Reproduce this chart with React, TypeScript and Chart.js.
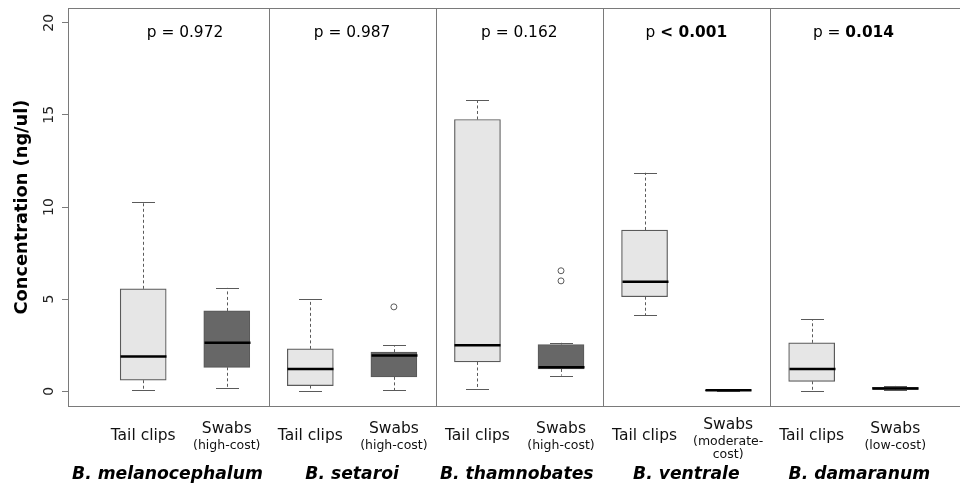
import React, { useEffect, useRef } from "react";
import { Chart, registerables } from "chart.js";

Chart.register(...registerables);

const species = ["B. melanocephalum", "B. setaroi", "B. thamnobates", "B. ventrale", "B. damaranum"];
const methods = ["Tail clips", "Swabs", "Tail clips", "Swabs", "Tail clips", "Swabs", "Tail clips", "Swabs", "Tail clips", "Swabs"];
const swabCost = ["(high-cost)", "(high-cost)", "(high-cost)", "(moderate-|cost)", "(low-cost)"];
const pComparator = ["=", "=", "=", "<", "="];
const pValues = ["0.972", "0.987", "0.162", "0.001", "0.014"];
const pSignificant = [false, false, false, true, true];

const whiskerLow = [0.05, 0.2, 0.02, 0.05, 0.11, 0.85, 4.13, 0.02, 0.0, 0.08];
const q1 = [0.6, 1.3, 0.31, 0.78, 1.59, 1.21, 5.13, 0.03, 0.54, 0.1];
const median = [1.89, 2.63, 1.21, 1.94, 2.5, 1.3, 5.94, 0.05, 1.21, 0.15];
const q3 = [5.56, 4.36, 2.3, 2.12, 14.75, 2.54, 8.75, 0.07, 2.63, 0.22];
const whiskerHigh = [10.29, 5.61, 5.0, 2.5, 15.8, 2.63, 11.86, 0.08, 3.9, 0.29];
const outlierBox = [4, 6, 6];
const outlierValue = [4.58, 6.54, 5.99];
const yTicks = [0, 5, 10, 15, 20];

const FONT = "'DejaVu Sans', Verdana, sans-serif";
const AXIS_GRAY = "#7a7a7a";
const BOX_EDGE = "#5a5a5a";

const overlay = {
  id: "boxOverlay",
  afterDraw(chart: any) {
    const { ctx, chartArea, scales } = chart;
    const x = scales.x;
    const y = scales.y;
    ctx.save();
    // top border
    ctx.strokeStyle = AXIS_GRAY;
    ctx.lineWidth = 1;
    ctx.setLineDash([]);
    ctx.beginPath();
    ctx.moveTo(chartArea.left, chartArea.top + 0.5);
    ctx.lineTo(chart.width, chartArea.top + 0.5);
    ctx.stroke();
    // panel dividers
    for (let k = 1; k < species.length; k++) {
      const px = Math.round(x.getPixelForValue(2 * k + 0.5)) + 0.5;
      ctx.beginPath();
      ctx.moveTo(px, chartArea.top);
      ctx.lineTo(px, chartArea.bottom);
      ctx.stroke();
    }
    // whiskers, caps, medians
    const boxW = 46;
    const capW = 23;
    for (let i = 0; i < median.length; i++) {
      const cx = Math.round(x.getPixelForValue(i + 1)) + 0.5;
      ctx.strokeStyle = BOX_EDGE;
      ctx.lineWidth = 1;
      ctx.setLineDash([3, 2.5]);
      ctx.beginPath();
      ctx.moveTo(cx, y.getPixelForValue(q3[i]));
      ctx.lineTo(cx, y.getPixelForValue(whiskerHigh[i]));
      ctx.moveTo(cx, y.getPixelForValue(q1[i]));
      ctx.lineTo(cx, y.getPixelForValue(whiskerLow[i]));
      ctx.stroke();
      ctx.setLineDash([]);
      ctx.beginPath();
      for (const v of [whiskerHigh[i], whiskerLow[i]]) {
        const py = Math.round(y.getPixelForValue(v)) + 0.5;
        ctx.moveTo(cx - capW / 2, py);
        ctx.lineTo(cx + capW / 2, py);
      }
      ctx.stroke();
      ctx.strokeStyle = "#000";
      ctx.lineWidth = 2.5;
      ctx.beginPath();
      const my = y.getPixelForValue(median[i]);
      ctx.moveTo(cx - boxW / 2, my);
      ctx.lineTo(cx + boxW / 2, my);
      ctx.stroke();
    }
    // y tick labels
    ctx.fillStyle = "#222";
    ctx.font = `14px ${FONT}`;
    ctx.textAlign = "center";
    ctx.textBaseline = "middle";
    for (const t of yTicks) {
      ctx.save();
      ctx.translate(49, y.getPixelForValue(t));
      ctx.rotate(-Math.PI / 2);
      ctx.fillText(String(t), 0, 0);
      ctx.restore();
    }
    // y title
    ctx.save();
    ctx.fillStyle = "#000";
    ctx.font = `bold 17.8px ${FONT}`;
    ctx.translate(22, (chartArea.top + chartArea.bottom) / 2);
    ctx.rotate(-Math.PI / 2);
    ctx.fillText("Concentration (ng/ul)", 0, 0);
    ctx.restore();
    // p values
    ctx.fillStyle = "#000";
    for (let k = 0; k < species.length; k++) {
      const cx = x.getPixelForValue(2 * k + 1.5);
      const normalFont = `15.4px ${FONT}`;
      const boldFont = `bold 15.4px ${FONT}`;
      const partA = "p ";
      const partB = pComparator[k] + " ";
      const partC = pValues[k];
      const fontB = pComparator[k] === "<" ? boldFont : normalFont;
      const fontC = pSignificant[k] ? boldFont : normalFont;
      ctx.font = normalFont;
      const wA = ctx.measureText(partA).width;
      ctx.font = fontB;
      const wB = ctx.measureText(partB).width;
      ctx.font = fontC;
      const wC = ctx.measureText(partC).width;
      let sx = cx - (wA + wB + wC) / 2;
      ctx.textAlign = "left";
      ctx.textBaseline = "middle";
      const py = 32.5;
      ctx.font = normalFont;
      ctx.fillText(partA, sx, py);
      sx += wA;
      ctx.font = fontB;
      ctx.fillText(partB, sx, py);
      sx += wB;
      ctx.font = fontC;
      ctx.fillText(partC, sx, py);
    }
    // x category labels
    ctx.textAlign = "center";
    ctx.textBaseline = "middle";
    ctx.fillStyle = "#111";
    for (let i = 0; i < methods.length; i++) {
      const cx = x.getPixelForValue(i + 1);
      if (i % 2 === 0) {
        ctx.font = `15.5px ${FONT}`;
        ctx.fillText(methods[i], cx, 436);
      } else {
        const lines = swabCost[(i - 1) / 2].split("|");
        const top = lines.length > 1 ? 425 : 429;
        ctx.font = `15.5px ${FONT}`;
        ctx.fillText(methods[i], cx, top);
        ctx.font = `12.5px ${FONT}`;
        lines.forEach((ln, j) => ctx.fillText(ln, cx, top + 17 + j * 13));
      }
    }
    // species labels
    ctx.fillStyle = "#000";
    ctx.font = `italic bold 17.2px ${FONT}`;
    const speciesCenters = [1.29, 3.5, 5.47, 7.5, 9.57];
    for (let k = 0; k < species.length; k++) {
      ctx.fillText(species[k], x.getPixelForValue(speciesCenters[k]), 475);
    }
    ctx.restore();
  },
};

export default function App() {
  const ref = useRef<HTMLCanvasElement>(null);
  useEffect(() => {
    if (!ref.current) return;
    const boxData = median.map((_, i) => ({ x: i + 1, y: [q1[i], q3[i]] }));
    const outlierData = outlierBox.map((b, i) => ({ x: b, y: outlierValue[i] }));
    const chart = new Chart(ref.current, {
      type: "bar",
      data: {
        datasets: [
          {
            type: "bar",
            data: boxData as any,
            backgroundColor: methods.map((m) => (m === "Tail clips" ? "#e6e6e6" : "#676767")),
            borderColor: BOX_EDGE,
            borderWidth: 1.2,
            borderSkipped: false,
            barThickness: 46,
          } as any,
          {
            type: "scatter",
            data: outlierData,
            pointStyle: "circle",
            pointRadius: 3,
            pointBorderWidth: 1,
            borderColor: BOX_EDGE,
            backgroundColor: "#fff",
          } as any,
        ],
      },
      options: {
        responsive: false,
        animation: false,
        events: [],
        layout: { padding: { left: 8, top: 8, right: 0, bottom: 0 } },
        plugins: { legend: { display: false }, tooltip: { enabled: false } },
        scales: {
          x: {
            type: "linear",
            offset: false,
            min: 0.1,
            max: 10.787,
            ticks: { display: false },
            grid: { display: false, offset: false },
            border: { display: true, color: AXIS_GRAY, width: 1 },
            afterFit(scale: any) {
              scale.height = 82;
            },
          },
          y: {
            type: "linear",
            min: -0.8,
            max: 20.8,
            afterBuildTicks(scale: any) {
              scale.ticks = yTicks.map((v) => ({ value: v }));
            },
            ticks: { display: false },
            grid: { display: true, drawOnChartArea: false, drawTicks: true, tickLength: 6, color: AXIS_GRAY },
            border: { display: true, color: AXIS_GRAY, width: 1 },
            afterFit(scale: any) {
              scale.width = 60;
            },
          },
        },
      } as any,
      plugins: [overlay],
    });
    return () => chart.destroy();
  }, []);
  return (
    <div style={{ position: "absolute", left: 0, top: 0, width: 960, height: 488, overflow: "hidden", background: "#fff" }}>
      <canvas ref={ref} width={966} height={488} style={{ display: "block" }} />
    </div>
  );
}
